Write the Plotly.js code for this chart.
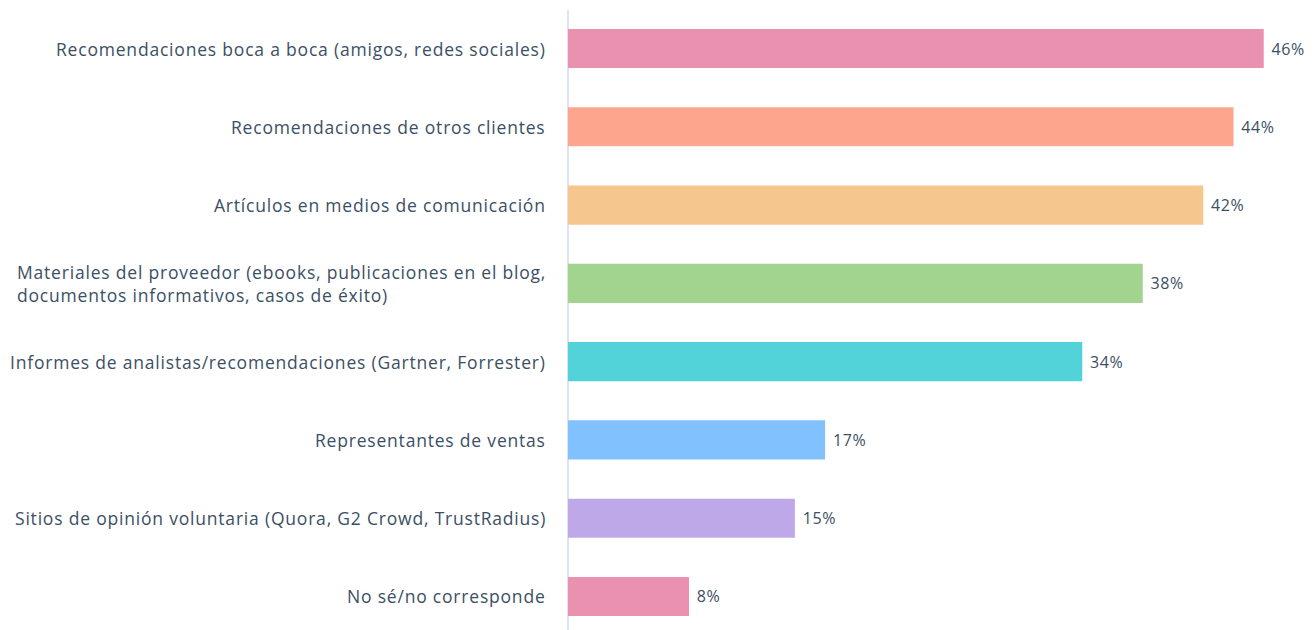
<!DOCTYPE html>
<html>
<head>
<meta charset="utf-8">
<script src="https://cdn.plot.ly/plotly-3.0.1.min.js"></script>
<style>
html,body{margin:0;padding:0;background:#fff;}
#chart{width:1315px;height:630px;}
text.annotation-text{letter-spacing:0.8px;}
text.bartext{letter-spacing:0.6px;}
</style>
</head>
<body>
<div id="chart"></div>
<script>
const categories = [
  "Recomendaciones boca a boca (amigos, redes sociales)",
  "Recomendaciones de otros clientes",
  "Artículos en medios de comunicación",
  "Materiales del proveedor (ebooks, publicaciones en el blog,<br>documentos informativos, casos de éxito)",
  "Informes de analistas/recomendaciones (Gartner, Forrester)",
  "Representantes de ventas",
  "Sitios de opinión voluntaria (Quora, G2 Crowd, TrustRadius)",
  "No sé/no corresponde"
];
const values = [46, 44, 42, 38, 34, 17, 15, 8];
const colors = ["#EA90B1", "#FEA68D", "#F5C68E", "#A2D38F", "#51D3D9", "#81C1FD", "#BEA8E7", "#EA90B1"];

const textColor = "#3B4F65";
const font = "'Open Sans', Lato, sans-serif";
const idx = categories.map((c, i) => i);

const trace = {
  type: "bar",
  orientation: "h",
  y: idx,
  x: values,
  width: 0.5,
  marker: {color: colors},
  text: values.map(v => " " + v + "%"),
  textposition: "outside",
  cliponaxis: false,
  textfont: {family: font, size: 16, color: textColor, weight: 400},
  hoverinfo: "skip"
};

const annotations = categories.map((c, i) => ({
  xref: "paper", yref: "y", x: 0, y: i,
  text: c, showarrow: false,
  xanchor: "right", yanchor: "middle", align: "left",
  xshift: -20,
  font: {family: font, size: 17.5, color: textColor, weight: 400}
}));

const layout = {
  width: 1315, height: 630,
  margin: {l: 568, r: 21, t: 10, b: 0},
  paper_bgcolor: "#fff", plot_bgcolor: "#fff",
  showlegend: false,
  xaxis: {range: [0, 48], visible: false, fixedrange: true},
  yaxis: {range: [7.428, -0.492], showticklabels: false, showgrid: false, zeroline: false, showline: false, ticks: ""},
  annotations: annotations,
  shapes: [{type: "line", xref: "paper", yref: "paper", x0: 0, x1: 0, y0: 0, y1: 1,
            xshift: -1, line: {color: "#DFE3EB", width: 2}, layer: "below"}]
};

Plotly.newPlot("chart", [trace], layout, {displayModeBar: false, staticPlot: true});
</script>
</body>
</html>
